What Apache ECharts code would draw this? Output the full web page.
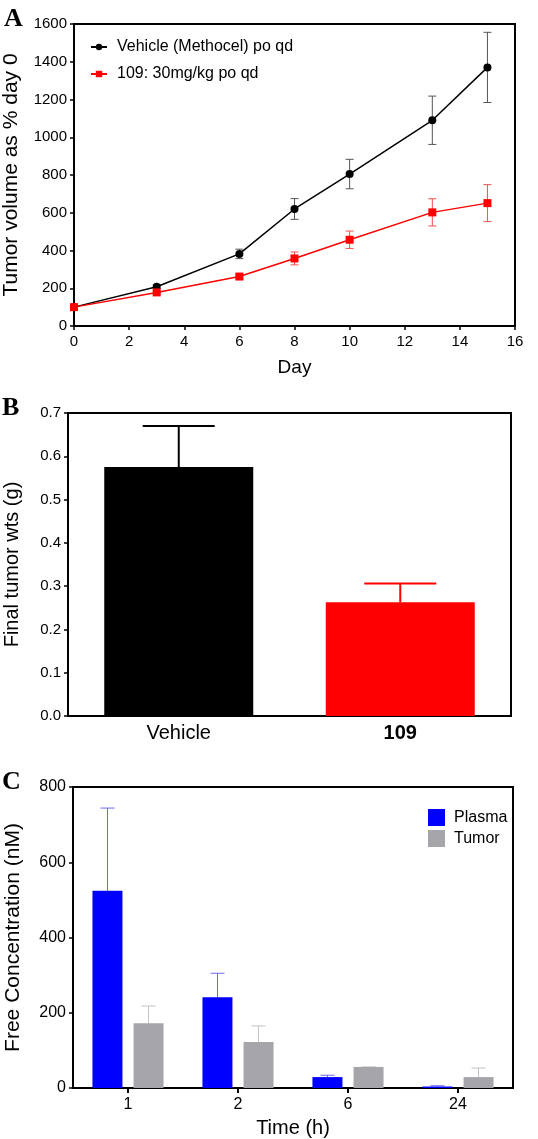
<!DOCTYPE html>
<html><head><meta charset="utf-8">
<script src="https://cdn.jsdelivr.net/npm/echarts@6/dist/echarts.min.js"></script>
<style>html,body{margin:0;padding:0;background:#fff}#c{width:538px;height:1139px}</style>
</head><body><div id="c"></div>
<script>
// Panel A data
const daysA = [0, 3, 6, 8, 10, 13, 15];
const vehicleA = [100, 208, 382, 620, 805, 1090, 1370];
const vehicleErrA = [4, 10, 25, 55, 78, 128, 186];
const drugA = [100, 178, 262, 358, 457, 602, 651];
const drugErrA = [4, 8, 12, 34, 46, 72, 98];
const seriesNamesA = ['Vehicle (Methocel) po qd', '109: 30mg/kg po qd'];
// Panel B data
const groupsB = ['Vehicle', '109'];
const weightsB = [0.575, 0.263];
const weightErrB = [0.095, 0.043];
// Panel C data
const timesC = ['1', '2', '6', '24'];
const plasmaC = [524, 241, 29, 4];
const plasmaErrC = [220, 64, 5, 2];
const tumorC = [172, 122, 56, 29];
const tumorErrC = [46, 43, 0, 24];

const FONT = '"Liberation Sans", Arial, sans-serif';
const chart = echarts.init(document.getElementById('c'), null, {renderer: 'canvas'});

function errSeries(name, xIdx, yIdx, xs, ys, errs, colors, capHalf, lw, upOnly, offset) {
  return {
    type: 'custom', name: name, xAxisIndex: xIdx, yAxisIndex: yIdx, silent: true, z: 1,
    data: xs.map((x, i) => [x, ys[i] - (upOnly ? 0 : errs[i]), ys[i] + errs[i]]),
    encode: {x: 0, y: [1, 2]},
    renderItem: function (params, api) {
      const lo = api.coord([api.value(0), api.value(1)]);
      const hi = api.coord([api.value(0), api.value(2)]);
      const x = lo[0] + (offset || 0);
      const color = Array.isArray(colors) ? colors[params.dataIndex] : colors;
      const st = {stroke: color, lineWidth: lw};
      const children = [
        {type: 'line', shape: {x1: x, y1: lo[1], x2: x, y2: hi[1]}, style: st},
        {type: 'line', shape: {x1: x - capHalf, y1: hi[1], x2: x + capHalf, y2: hi[1]}, style: st}
      ];
      if (!upOnly) children.push({type: 'line', shape: {x1: x - capHalf, y1: lo[1], x2: x + capHalf, y2: lo[1]}, style: st});
      return {type: 'group', children: children};
    }
  };
}

const axisLineStyle = {show: true, lineStyle: {color: '#000', width: 2}};
const tickStyle = {show: true, length: 4, lineStyle: {color: '#000', width: 1.5}};
const plain = (v) => String(v);
const gridBase = {show: true, borderColor: '#000', borderWidth: 2, backgroundColor: 'transparent', containLabel: false, outerBoundsMode: 'none'};

const option = {
  animation: false,
  textStyle: {fontFamily: FONT},
  graphic: [
    {type: 'text', left: 4, top: 6, style: {text: 'A', font: 'bold 26px "Liberation Serif", "Times New Roman", serif', fill: '#000'}},
    {type: 'text', left: 2, top: 395, style: {text: 'B', font: 'bold 26px "Liberation Serif", "Times New Roman", serif', fill: '#000'}},
    {type: 'text', left: 2, top: 769, style: {text: 'C', font: 'bold 26px "Liberation Serif", "Times New Roman", serif', fill: '#000'}}
  ],
  grid: [
    Object.assign({left: 74, top: 24, width: 441, height: 302}, gridBase),
    Object.assign({left: 68, top: 413, width: 443, height: 303}, gridBase),
    Object.assign({left: 73, top: 787, width: 440, height: 301}, gridBase)
  ],
  legend: [
    {data: seriesNamesA, orient: 'vertical', left: 85, top: 34, itemWidth: 16, itemHeight: 8, itemGap: 11,
     textStyle: {fontFamily: FONT, fontSize: 16, color: '#000', padding: [0, 0, 0, 5]}},
    {data: ['Plasma', 'Tumor'], orient: 'vertical', left: 423, top: 804, itemWidth: 17, itemHeight: 17, itemGap: 4,
     textStyle: {fontFamily: FONT, fontSize: 16, color: '#000', padding: [0, 0, 0, 4]}, icon: 'rect'}
  ],
  xAxis: [
    {gridIndex: 0, type: 'value', min: 0, max: 16, interval: 2, name: 'Day', nameLocation: 'middle', nameGap: 32,
     nameTextStyle: {fontFamily: FONT, fontSize: 19, color: '#000'},
     axisLine: axisLineStyle, axisTick: tickStyle, splitLine: {show: false},
     axisLabel: {fontFamily: FONT, fontSize: 15, color: '#000', margin: 8, formatter: plain}},
    {gridIndex: 1, type: 'category', data: groupsB, axisLine: axisLineStyle, axisTick: {show: false},
     axisLabel: {fontFamily: FONT, fontSize: 20, color: '#000', margin: 7,
       formatter: (v) => v === '109' ? '{b|' + v + '}' : v, rich: {b: {fontWeight: 'bold', fontSize: 20, fontFamily: FONT, color: '#000'}}}},
    {gridIndex: 2, type: 'category', data: timesC, name: 'Time (h)', nameLocation: 'middle', nameGap: 30,
     nameTextStyle: {fontFamily: FONT, fontSize: 20, color: '#000'},
     axisLine: axisLineStyle, axisTick: {show: true, alignWithLabel: true, length: 5, lineStyle: {color: '#000', width: 2}},
     axisLabel: {fontFamily: FONT, fontSize: 16, color: '#000', margin: 9}}
  ],
  yAxis: [
    {gridIndex: 0, type: 'value', min: 0, max: 1600, interval: 200, name: 'Tumor volume as % day 0', nameLocation: 'middle', nameGap: 52,
     nameTextStyle: {fontFamily: FONT, fontSize: 21, color: '#000'},
     axisLine: axisLineStyle, axisTick: tickStyle, splitLine: {show: false},
     axisLabel: {fontFamily: FONT, fontSize: 15, color: '#000', margin: 7, formatter: plain}},
    {gridIndex: 1, type: 'value', min: 0, max: 0.7, interval: 0.1, name: 'Final tumor wts (g)', nameLocation: 'middle', nameGap: 46,
     nameTextStyle: {fontFamily: FONT, fontSize: 20, color: '#000'},
     axisLine: axisLineStyle, axisTick: tickStyle, splitLine: {show: false},
     axisLabel: {fontFamily: FONT, fontSize: 15, color: '#000', margin: 7, formatter: (v) => v.toFixed(1)}},
    {gridIndex: 2, type: 'value', min: 0, max: 800, interval: 200, name: 'Free Concentration (nM)', nameLocation: 'middle', nameGap: 49,
     nameTextStyle: {fontFamily: FONT, fontSize: 21, color: '#000'},
     axisLine: axisLineStyle, axisTick: tickStyle, splitLine: {show: false},
     axisLabel: {fontFamily: FONT, fontSize: 16, color: '#000', margin: 7, formatter: plain}}
  ],
  series: [
    errSeries('errVeh', 0, 0, daysA, vehicleA, vehicleErrA, '#555', 4, 1, false),
    errSeries('errDrug', 0, 0, daysA, drugA, drugErrA, '#f05050', 4, 1, false),
    {name: seriesNamesA[0], type: 'line', xAxisIndex: 0, yAxisIndex: 0, data: daysA.map((d, i) => [d, vehicleA[i]]),
     symbol: 'circle', symbolSize: 8, lineStyle: {color: '#000', width: 1.5}, itemStyle: {color: '#000'}, z: 3},
    {name: seriesNamesA[1], type: 'line', xAxisIndex: 0, yAxisIndex: 0, data: daysA.map((d, i) => [d, drugA[i]]),
     symbol: 'rect', symbolSize: 8, lineStyle: {color: '#ff0000', width: 1.5}, itemStyle: {color: '#ff0000'}, z: 4},
    errSeries('errB', 1, 1, [0, 1], weightsB, weightErrB, ['#000', '#ff0000'], 36, 2, true),
    {name: 'weights', type: 'bar', xAxisIndex: 1, yAxisIndex: 1, barWidth: 149, z: 2,
     data: weightsB.map((v, i) => ({value: v, itemStyle: {color: i === 0 ? '#000' : '#ff0000'}}))},
    {name: 'Plasma', type: 'bar', xAxisIndex: 2, yAxisIndex: 2, data: plasmaC, barWidth: 30, barGap: '37%', itemStyle: {color: '#0000ff'}, z: 2},
    {name: 'Tumor', type: 'bar', xAxisIndex: 2, yAxisIndex: 2, data: tumorC, barWidth: 30, barGap: '37%', itemStyle: {color: '#a6a6aa'}, z: 2},
    errSeries('errPlasma', 2, 2, [0, 1, 2, 3], plasmaC, plasmaErrC, '#6a6af0', 7, 1, true, -20.5),
    errSeries('errTumor', 2, 2, [0, 1, 2, 3], tumorC, tumorErrC, '#c4c4c4', 7, 1, true, 20.5)
  ]
};
chart.setOption(option);
</script></body></html>
